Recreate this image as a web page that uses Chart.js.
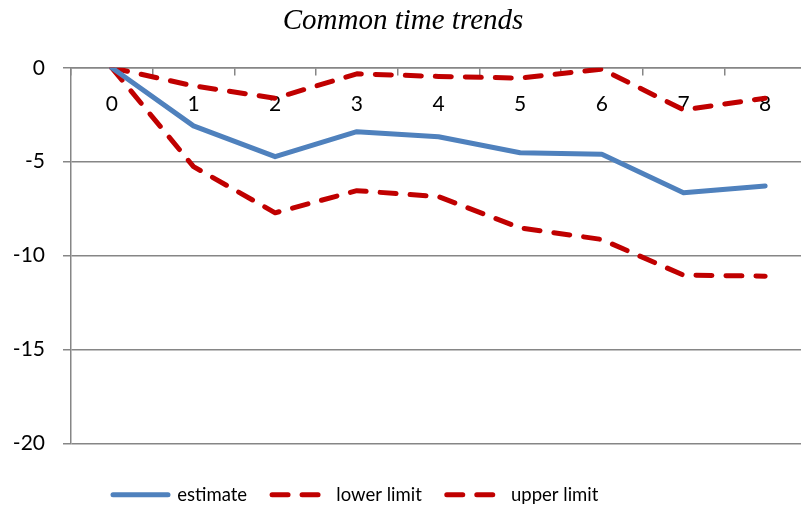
<!DOCTYPE html>
<html>
<head>
<meta charset="utf-8">
<script src="https://cdn.jsdelivr.net/npm/chart.js@4.4.0/dist/chart.umd.min.js"></script>
<style>
html,body{margin:0;padding:0;background:#fff;overflow:hidden;}
canvas{display:block;}
</style>
</head>
<body>
<canvas id="c" width="806" height="513"></canvas>
<script>
const categories = ["0","1","2","3","4","5","6","7","8"];
const estimate   = [0, -3.09, -4.73, -3.40, -3.67, -4.52, -4.60, -6.65, -6.29];
const lowerLimit = [0, -5.26, -7.72, -6.54, -6.86, -8.52, -9.14, -11.04, -11.09];
const upperLimit = [0, -0.96, -1.62, -0.32, -0.46, -0.55, -0.07, -2.24, -1.62];
const yTicks = [0, -5, -10, -15, -20];

const gridColor = '#868686';
const dashPattern = [16, 14];

const legendPlace = {
  id: 'legendPlace',
  afterLayout(chart) {
    const lg = chart.legend;
    if (!lg) return;
    const pad = lg.options.labels.padding;
    const w = lg.right - lg.left, h = lg.bottom - lg.top;
    lg.left = 113 - pad; lg.right = lg.left + w;
    lg.top = 495 - pad - 9.5; lg.bottom = lg.top + h;
  }
};

new Chart(document.getElementById('c'), {
  type: 'line',
  data: {
    labels: categories,
    datasets: [
      { label: 'estimate', data: estimate, borderColor: '#4F81BD', backgroundColor: '#4F81BD',
        borderWidth: 5, pointRadius: 0, tension: 0, borderCapStyle: 'round', borderJoinStyle: 'round' },
      { label: 'lower limit', data: lowerLimit, borderColor: '#C00000', backgroundColor: '#C00000',
        borderWidth: 5, pointRadius: 0, tension: 0, borderDash: dashPattern, borderCapStyle: 'round', borderJoinStyle: 'round' },
      { label: 'upper limit', data: upperLimit, borderColor: '#C00000', backgroundColor: '#C00000',
        borderWidth: 5, pointRadius: 0, tension: 0, borderDash: dashPattern, borderCapStyle: 'round', borderJoinStyle: 'round' }
    ]
  },
  plugins: [legendPlace],
  options: {
    responsive: false,
    animation: false,
    layout: { padding: { left: 0, right: 0, top: 0, bottom: 16 } },
    plugins: {
      tooltip: { enabled: false },
      title: {
        display: true,
        text: 'Common time trends',
        color: '#000',
        font: { family: 'Liberation Serif', size: 29, style: 'italic', weight: 'normal', lineHeight: 1.2 },
        padding: { top: 4, bottom: 29 }
      },
      legend: {
        position: 'bottom',
        align: 'start',
        labels: {
          color: '#000',
          font: { family: 'Lato', size: 18.5 },
          usePointStyle: true,
          pointStyle: 'line',
          pointStyleWidth: 55,
          padding: 25,
          generateLabels(chart) {
            const items = Chart.defaults.plugins.legend.labels.generateLabels(chart);
            items.forEach((it, i) => {
              const ds = chart.data.datasets[i];
              it.lineDash = ds.borderDash || [];
              it.lineWidth = 5;
              it.strokeStyle = ds.borderColor;
              it.lineCap = 'round';
            });
            return items;
          }
        }
      }
    },
    scales: {
      x: {
        type: 'category',
        position: { y: 0 },
        offset: true,
        grid: { display: true, drawOnChartArea: false, drawTicks: true, tickLength: 7, color: gridColor, lineWidth: 1.5, offset: true },
        border: { display: true, color: gridColor, width: 1.5 },
        ticks: { color: '#000', font: { family: 'Lato', size: 21 }, padding: 17, maxRotation: 0 }
      },
      y: {
        min: -20, max: 0,
        afterFit: (s) => { s.width = 71; },
        afterBuildTicks: (s) => { s.ticks = yTicks.map(v => ({ value: v })); },
        grid: { color: gridColor, lineWidth: 1.5, tickLength: 8 },
        border: { display: true, color: gridColor, width: 1.5 },
        ticks: { color: '#000', font: { family: 'Lato', size: 21 }, padding: 18 }
      }
    }
  }
});
</script>
</body>
</html>
